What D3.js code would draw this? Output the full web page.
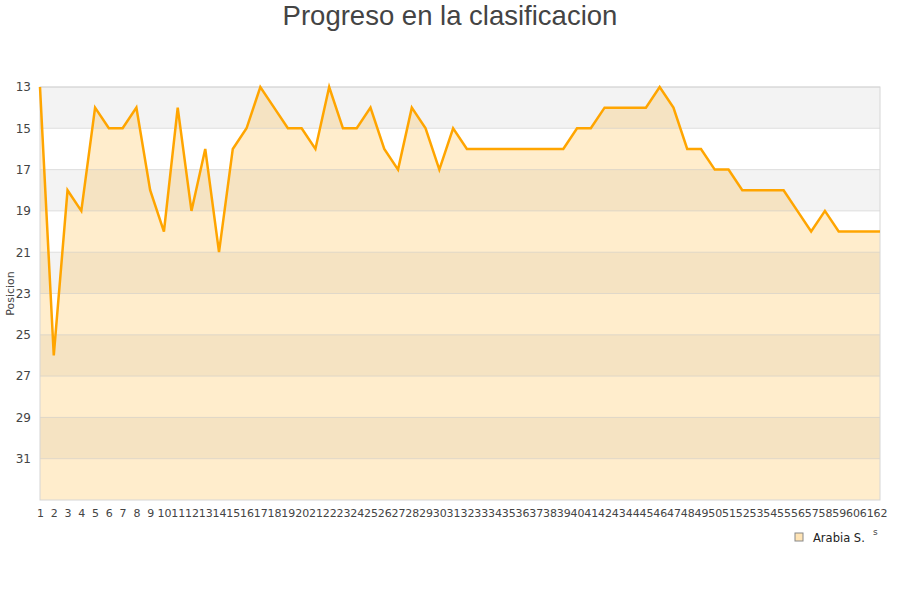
<!DOCTYPE html>
<html>
<head>
<meta charset="utf-8">
<script src="https://d3js.org/d3.v7.min.js"></script>
<style>
  body { margin: 0; background: #fff; }
  svg { font-family: "DejaVu Sans", sans-serif; }
</style>
</head>
<body>
<div id="chart"></div>
<script>
// jornadas 1..62 and position of the team in each one
const jornadas = d3.range(1, 63);
const posicion = [
  13, 26, 18, 19, 14, 15, 15, 14, 18, 20,
  14, 19, 16, 21, 16, 15, 13, 14, 15, 15,
  16, 13, 15, 15, 14, 16, 17, 14, 15, 17,
  15, 16, 16, 16, 16, 16, 16, 16, 16, 15,
  15, 14, 14, 14, 14, 13, 14, 16, 16, 17,
  17, 18, 18, 18, 18, 19, 20, 19, 20, 20,
  20, 20
];
const yTicks = [13, 15, 17, 19, 21, 23, 25, 27, 29, 31];
const equipo = "Arabia S.";

const W = 900, H = 600;
const margin = {top: 87, right: 20, bottom: 100, left: 40};

const svg = d3.select("#chart").append("svg")
  .attr("width", W).attr("height", H);

const x = d3.scalePoint()
  .domain(jornadas)
  .range([margin.left, W - margin.right]);

const y = d3.scaleLinear()
  .domain([13, 33])
  .range([margin.top, H - margin.bottom]);

// alternating background bands
const bands = d3.range(13, 33, 2);
svg.append("g").selectAll("rect")
  .data(bands)
  .join("rect")
    .attr("x", margin.left)
    .attr("width", W - margin.right - margin.left)
    .attr("y", d => y(d))
    .attr("height", d => y(d + 2) - y(d))
    .attr("fill", (d, i) => i % 2 === 0 ? "#f3f3f3" : "#ffffff");

// area under the line
svg.append("path")
  .datum(posicion)
  .attr("fill", "rgba(255,165,0,0.2)")
  .attr("d", d3.area()
    .x((d, i) => x(jornadas[i]))
    .y0(y(33))
    .y1(d => y(d)));

// horizontal grid lines
svg.append("g").selectAll("line")
  .data(yTicks)
  .join("line")
    .attr("x1", margin.left)
    .attr("x2", W - margin.right)
    .attr("y1", d => y(d))
    .attr("y2", d => y(d))
    .attr("stroke", "rgba(200,200,200,0.55)")
    .attr("stroke-width", 1);

// frame
svg.append("rect")
  .attr("x", margin.left)
  .attr("y", margin.top)
  .attr("width", W - margin.right - margin.left)
  .attr("height", H - margin.bottom - margin.top)
  .attr("fill", "none")
  .attr("stroke", "#d6d6d6");

// the line
svg.append("path")
  .datum(posicion)
  .attr("fill", "none")
  .attr("stroke", "#ffa500")
  .attr("stroke-width", 2.5)
  .attr("d", d3.line()
    .x((d, i) => x(jornadas[i]))
    .y(d => y(d)));

// y axis
const yAxis = svg.append("g")
  .attr("transform", `translate(${margin.left},0)`)
  .call(d3.axisLeft(y).tickValues(yTicks).tickSize(0).tickPadding(9));
yAxis.select(".domain").remove();
yAxis.selectAll("text")
  .attr("fill", "#444")
  .style("font-size", "12px")
  .style("font-family", "DejaVu Sans");

// x axis
const xAxis = svg.append("g")
  .attr("transform", `translate(0,${H - margin.bottom})`)
  .call(d3.axisBottom(x).tickSize(0).tickPadding(9));
xAxis.select(".domain").remove();
xAxis.selectAll("text")
  .attr("fill", "#444")
  .style("font-size", "11px")
  .style("font-family", "DejaVu Sans");

// y label
svg.append("text")
  .attr("transform", `translate(14,${(margin.top + H - margin.bottom) / 2}) rotate(-90)`)
  .attr("text-anchor", "middle")
  .attr("fill", "#444")
  .style("font-size", "11px")
  .text("Posicion");

// title
svg.append("text")
  .attr("x", W / 2)
  .attr("y", 25)
  .attr("text-anchor", "middle")
  .attr("fill", "#444")
  .style("font-family", "Liberation Sans, Arial, sans-serif")
  .style("font-size", "27.5px")
  .text("Progreso en la clasificacion");

// legend
const lg = svg.append("g").attr("transform", "translate(795,533)");
lg.append("rect")
  .attr("width", 8).attr("height", 8)
  .attr("fill", "#ffe4b5")
  .attr("stroke", "#888")
  .attr("stroke-width", 1);
lg.append("text")
  .attr("x", 18).attr("y", 8.5)
  .attr("fill", "#222")
  .style("font-size", "11.5px")
  .text(equipo);

// clipped remains of the x axis title
svg.append("text")
  .attr("x", 873).attr("y", 535)
  .attr("fill", "#444")
  .style("font-size", "9px")
  .text("s");
</script>
</body>
</html>
